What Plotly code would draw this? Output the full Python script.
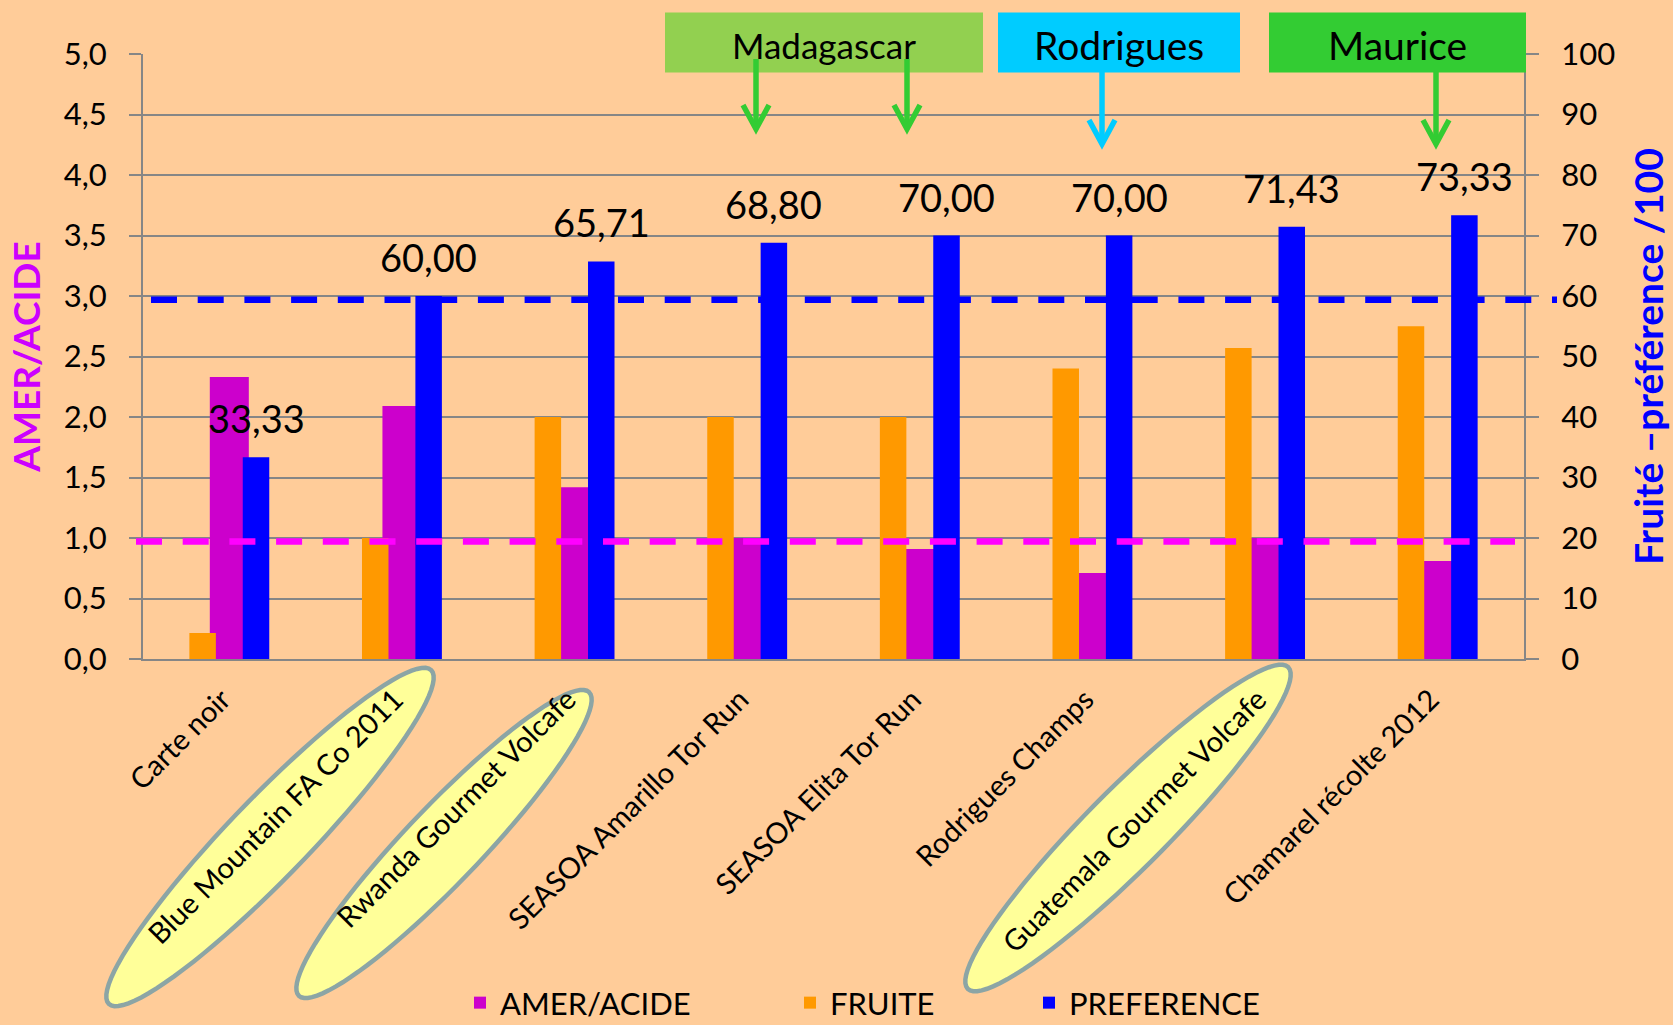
import math
import plotly.graph_objects as go

# ---------------- data ----------------
categories = [
    "Carte noir",
    "Blue Mountain FA Co 2011",
    "Rwanda Gourmet Volcafe",
    "SEASOA Amarillo Tor Run",
    "SEASOA Elita Tor Run",
    "Rodrigues Champs",
    "Guatemala Gourmet Volcafe",
    "Chamarel récolte 2012",
]
amer_acide = [2.33, 2.09, 1.42, 1.00, 0.91, 0.71, 1.00, 0.81]          # left axis (0-5)
fruite = [4.3, 20.0, 40.0, 40.0, 40.0, 48.0, 51.4, 55.0]              # right axis (/100)
preference = [33.33, 60.00, 65.71, 68.80, 70.00, 70.00, 71.43, 73.33]  # right axis (/100)

left_ticks = [0.0, 0.5, 1.0, 1.5, 2.0, 2.5, 3.0, 3.5, 4.0, 4.5, 5.0]
right_ticks = [0, 10, 20, 30, 40, 50, 60, 70, 80, 90, 100]

amer_threshold = 0.971     # magenta dashed reference (left axis)
pref_threshold = 59.4      # blue dashed reference (right axis)

regions = ["Madagascar", "Rodrigues", "Maurice"]
region_colors = ["#92D050", "#00CCFF", "#33CC33"]
arrow_colors = ["#33CC33", "#00CCFF", "#33CC33"]
highlighted = ["Blue Mountain FA Co 2011", "Rwanda Gourmet Volcafe", "Guatemala Gourmet Volcafe"]

# ---------------- layout geometry (pixels) ----------------
W, H = 1673, 1025
L, R, T, B = 143, 1524, 54, 659
CAT_PX = (R - L) / len(categories)


def px(x):
    return (x - L) / (R - L)


def py(y):
    return (B - y) / (B - T)


FONT = "Lato, Carlito, Calibri, sans-serif"
GRID = "#868686"
BG = "#FFCC99"

# bar geometry in category units
side_w = 26.5 / CAT_PX
mid_w = 39.0 / CAT_PX
side_c = 26.7 / CAT_PX

fig = go.Figure()
fig.add_trace(go.Bar(
    x=categories, y=amer_acide, name="AMER/ACIDE", yaxis="y",
    marker=dict(color="#CC00CC", line=dict(width=0)),
    width=mid_w, offset=-mid_w / 2, legend="legend",
))
fig.add_trace(go.Bar(
    x=categories, y=fruite, name="FRUITE", yaxis="y2",
    marker=dict(color="#FF9900", line=dict(width=0)),
    width=side_w, offset=-side_c - side_w / 2, legend="legend2",
))
fig.add_trace(go.Bar(
    x=categories, y=preference, name="PREFERENCE", yaxis="y2",
    marker=dict(color="#0000FF", line=dict(width=0)),
    width=side_w, offset=side_c - side_w / 2, legend="legend3",
))

shapes = []
annotations = []

# data labels above PREFERENCE bars
for c, v in zip(categories, preference):
    annotations.append(dict(
        x=c, y=v, xref="x", yref="y2", xshift=side_c * CAT_PX, yshift=14,
        yanchor="bottom", xanchor="center", showarrow=False,
        text=f"{v:.2f}".replace(".", ","),
        font=dict(family=FONT, size=38, color="black"),
    ))

# dashed reference lines
shapes.append(dict(
    type="line", xref="paper", yref="y2", x0=px(151), x1=px(1557),
    y0=pref_threshold, y1=pref_threshold,
    line=dict(color="#0000FF", width=6.5, dash="26px,20.7px"), layer="above",
))
shapes.append(dict(
    type="line", xref="paper", yref="y", x0=px(136), x1=px(1515),
    y0=amer_threshold, y1=amer_threshold,
    line=dict(color="#FF00FF", width=6.5, dash="26px,20.7px"), layer="above",
))

# region boxes
boxes = [(665, 983), (998, 1240), (1269, 1526)]
box_font = [35, 39, 39]
for name, col, (bx0, bx1), fs in zip(regions, region_colors, boxes, box_font):
    shapes.append(dict(
        type="rect", xref="paper", yref="paper",
        x0=px(bx0), x1=px(bx1), y0=py(72.5), y1=py(12.5),
        fillcolor=col, line=dict(width=0), layer="above",
    ))
    annotations.append(dict(
        x=px((bx0 + bx1) / 2), y=py(45), xref="paper", yref="paper",
        text=name, showarrow=False, xanchor="center", yanchor="middle",
        font=dict(family=FONT, size=fs, color="black"),
    ))

# arrows (x, y_start, y_tip, colour)
arrows = [
    (756, 59, 129, arrow_colors[0]),
    (907, 59, 129, arrow_colors[0]),
    (1102, 72, 144, arrow_colors[1]),
    (1436, 72, 144, arrow_colors[2]),
]
for ax, ys, yt, col in arrows:
    shapes.append(dict(
        type="path", xref="paper", yref="paper",
        path=f"M {px(ax)},{py(ys)} L {px(ax)},{py(yt)}",
        line=dict(color=col, width=5.5), layer="above",
    ))
    shapes.append(dict(
        type="path", xref="paper", yref="paper",
        path=(f"M {px(ax - 13)},{py(yt - 24)} L {px(ax)},{py(yt)} "
              f"L {px(ax + 13)},{py(yt - 24)}"),
        line=dict(color=col, width=5.5), layer="above",
    ))


# ellipses around highlighted category labels
def ellipse_path(cx, cy, a, b, ang_deg, n=90):
    th = math.radians(ang_deg)
    pts = []
    for k in range(n):
        t = 2 * math.pi * k / n
        ex, ey = a * math.cos(t), b * math.sin(t)
        x = cx + ex * math.cos(th) + ey * math.sin(th)
        y = cy - ex * math.sin(th) + ey * math.cos(th)
        pts.append(f"{px(x):.5f},{py(y):.5f}")
    return "M " + " L ".join(pts) + " Z"


ellipses = [(270, 837, 232, 40, 46.0), (444, 844, 210, 38, 46.3), (1128, 828, 227, 40, 45.1)]
for (cx, cy, a, b, ang) in ellipses:
    shapes.append(dict(
        type="path", xref="paper", yref="paper", path=ellipse_path(cx, cy, a, b, ang),
        fillcolor="#FFFF99", line=dict(color="#8CA5A5", width=4.5), layer="below",
    ))

legend_common = dict(
    orientation="h", bgcolor="rgba(0,0,0,0)", yanchor="middle", xanchor="left",
    font=dict(family=FONT, size=31, color="black"), itemwidth=30,
)

fig.update_layout(
    width=W, height=H,
    margin=dict(l=L, r=W - R, t=T, b=H - B, autoexpand=False),
    paper_bgcolor=BG, plot_bgcolor=BG,
    barmode="overlay",
    separators=", ",
    font=dict(family=FONT, color="black"),
    showlegend=True,
    legend=dict(legend_common, x=px(460), y=py(1003)),
    legend2=dict(legend_common, x=px(790), y=py(1003)),
    legend3=dict(legend_common, x=px(1029), y=py(1003)),
    xaxis=dict(
        type="category", range=[-0.5, len(categories) - 0.5],
        showgrid=False, showline=True, linecolor=GRID, linewidth=2,
        ticks="", tickangle=-45, tickfont=dict(family=FONT, size=29, color="black"),
        ticklabelstandoff=10, ticklabelshift=-7,
        automargin=False,
    ),
    yaxis=dict(
        range=[0, 5], tickvals=left_ticks, tickformat=".1f",
        showgrid=True, gridcolor=GRID, gridwidth=2, zeroline=False,
        showline=True, linecolor=GRID, linewidth=2,
        ticks="outside", ticklen=12, tickwidth=2, tickcolor=GRID,
        ticklabelstandoff=16,
        tickfont=dict(family=FONT, size=31, color="black"),
        title=dict(text="AMER/ACIDE", standoff=12,
                   font=dict(family=FONT, size=37, color="#CC00FF", weight="bold")),
        automargin=False,
    ),
    yaxis2=dict(
        range=[0, 100], tickvals=right_ticks, tickformat="d",
        overlaying="y", side="right",
        showgrid=False, zeroline=False,
        showline=True, linecolor=GRID, linewidth=2,
        ticks="outside", ticklen=13, tickwidth=2, tickcolor=GRID,
        ticklabelstandoff=16,
        tickfont=dict(family=FONT, size=31, color="black"),
        title=dict(text="Fruité –préférence /100", standoff=22,
                   font=dict(family=FONT, size=39, color="#0000FF", weight="bold")),
        automargin=False,
    ),
    shapes=shapes,
    annotations=annotations,
)

fig.write_html("out.html")
